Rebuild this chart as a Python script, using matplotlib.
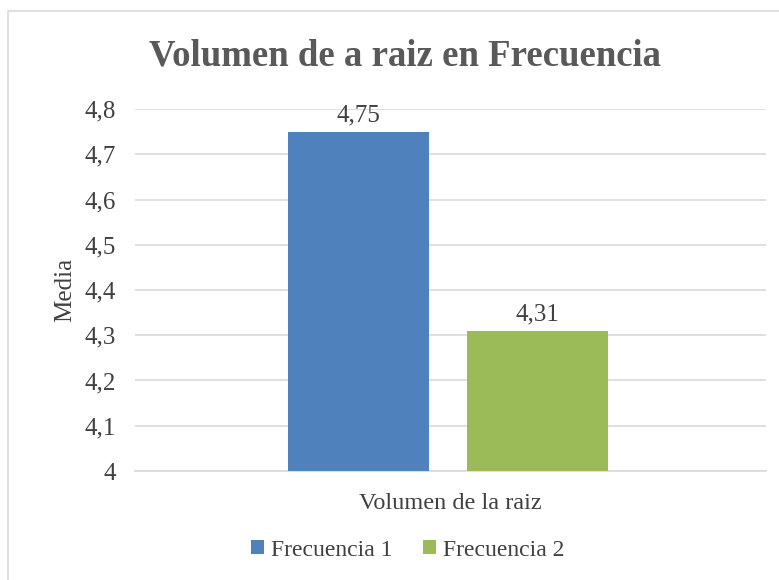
import matplotlib
matplotlib.use("Agg")
import matplotlib.pyplot as plt
from matplotlib.patches import Rectangle

category = "Volumen de la raiz"
series_names = ["Frecuencia 1", "Frecuencia 2"]
series_values = [4.75, 4.31]
colors = ["#4F81BD", "#9BBB59"]
yticks = [4.0, 4.1, 4.2, 4.3, 4.4, 4.5, 4.6, 4.7, 4.8]
ytick_labels = ["4", "4,1", "4,2", "4,3", "4,4", "4,5", "4,6", "4,7", "4,8"]
value_labels = ["4,75", "4,31"]

plt.rcParams['font.family'] = ['Liberation Serif', 'DejaVu Serif']

fig = plt.figure(figsize=(7.79, 5.80), dpi=100)
fig.patches.append(Rectangle((8/779, -0.1), 1.1, (580-11)/580 + 0.1, transform=fig.transFigure,
                             fill=False, edgecolor="#D9D9D9", linewidth=1.2))
ax = fig.add_axes([135/779, 1-471/580, 631/779, (471-109)/580])

width = 0.223
offsets = [-0.1415, 0.1415]
for name, v, c, off, lab in zip(series_names, series_values, colors, offsets, value_labels):
    ax.bar(0.496 + off, v - 4.0, bottom=4.0, width=width, color=c, label=name, zorder=3)
    ax.text(0.496 + off, v + 0.011, lab, ha="center", va="bottom", fontsize=18, color="#404040")

ax.set_xlim(0, 1)
ax.set_ylim(4.0, 4.8)
ax.set_yticks(yticks)
ax.set_yticklabels(ytick_labels, fontsize=18, color="#404040")
ax.set_xticks([0.5])
ax.set_xticklabels([category], fontsize=17.5, color="#404040")
ax.tick_params(axis="both", length=0)
ax.tick_params(axis="y", pad=14)
ax.tick_params(axis="x", pad=16)
ax.grid(axis="y", color="#D9D9D9", linewidth=1.2, zorder=0)
for s in ["top", "right", "left"]:
    ax.spines[s].set_visible(False)
ax.spines["bottom"].set_color("#D9D9D9")
ax.spines["bottom"].set_linewidth(1.2)
ax.set_ylabel("Media", fontsize=18, color="#404040", labelpad=6)

fig.text(405/779, 1-56/580, "Volumen de a raiz en Frecuencia", ha="center", va="center",
         fontsize=26.5, fontweight="bold", color="#595959")

fig.legend(loc="center", bbox_to_anchor=(408/779, 1-550/580), ncol=2, frameon=False,
           fontsize=17, handlelength=0.55, handleheight=0.55, handletextpad=0.3, columnspacing=1.3,
           labelcolor="#404040")

fig.savefig("out.png", dpi=100)
